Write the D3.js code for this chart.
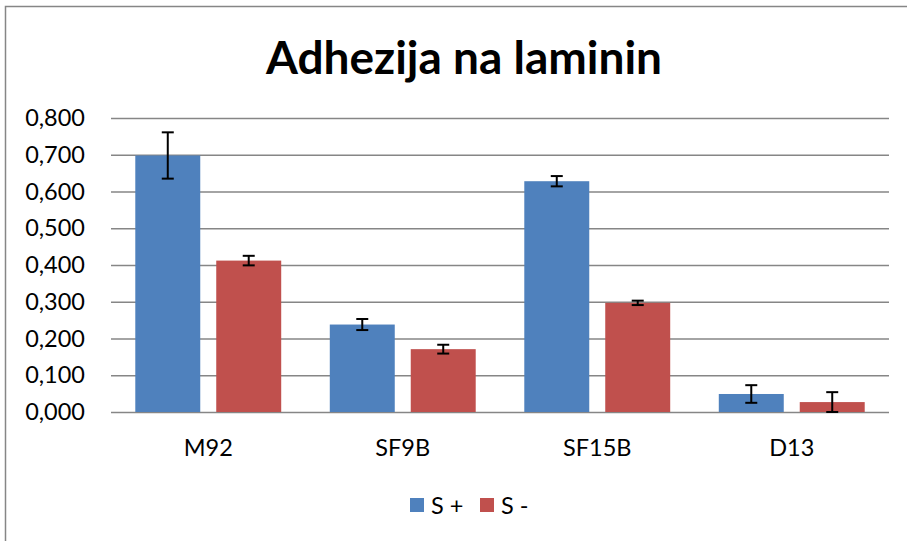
<!DOCTYPE html>
<html>
<head>
<meta charset="utf-8">
<script src="https://cdn.jsdelivr.net/npm/d3@7"></script>
<style>
  body { margin: 0; background: #fff; }
  svg { display: block; font-family: Lato, "Open Sans", sans-serif; }
</style>
</head>
<body>
<div id="chart"></div>
<script>
const categories = ["M92", "SF9B", "SF15B", "D13"];
const series = ["S +", "S -"];
const colors = ["#4F81BD", "#C0504D"];
const s_plus = [0.698, 0.238, 0.628, 0.049];
const s_plus_err = [0.063, 0.015, 0.014, 0.024];
const s_minus = [0.412, 0.171, 0.297, 0.027];
const s_minus_err = [0.013, 0.012, 0.006, 0.027];
const y_ticks = [0, 0.1, 0.2, 0.3, 0.4, 0.5, 0.6, 0.7, 0.8];

const width = 907, height = 541;
const margins = { top: 118, right: 18, bottom: 129, left: 111 };

const values = [s_plus, s_minus];
const errors = [s_plus_err, s_minus_err];

const svg = d3.select("#chart")
  .append("svg")
  .attr("width", width)
  .attr("height", height);

// chart frame (cut off at right and bottom like the picture)
svg.append("rect")
  .attr("x", 5.5).attr("y", 6.5)
  .attr("width", 1000).attr("height", 1000)
  .attr("fill", "none")
  .attr("stroke", "#868686")
  .attr("stroke-width", 1.5);

const x0 = d3.scaleBand()
  .domain(categories)
  .range([margins.left, width - margins.right]);

const x1 = d3.scaleBand()
  .domain(series)
  .range([0, x0.bandwidth()])
  .paddingInner(0.1975)
  .paddingOuter(0.3);

const y = d3.scaleLinear()
  .domain([0, 0.8])
  .range([height - margins.bottom, margins.top]);

const fmt = d => d3.format(".3f")(d).replace(".", ",");

// gridlines + y labels
const y_axis = d3.axisLeft(y)
  .tickValues(y_ticks)
  .tickFormat(fmt)
  .tickSize(-(width - margins.right - margins.left))
  .tickPadding(26);

svg.append("g")
  .attr("class", "y axis")
  .attr("transform", "translate(" + margins.left + ",0)")
  .call(y_axis)
  .call(g => g.select(".domain").remove())
  .call(g => g.selectAll(".tick line").attr("stroke", "#868686").attr("stroke-width", 1.5))
  .call(g => g.selectAll(".tick text").attr("font-size", 23.5).attr("fill", "#000").attr("font-family", "Lato"));

// bars
const groups = svg.append("g")
  .selectAll("g")
  .data(categories)
  .join("g")
  .attr("transform", d => "translate(" + x0(d) + ",0)");

groups.selectAll("rect")
  .data((d, i) => series.map((s, j) => ({ s, j, v: values[j][i], e: errors[j][i] })))
  .join("rect")
  .attr("x", d => x1(d.s))
  .attr("width", x1.bandwidth())
  .attr("y", d => y(d.v))
  .attr("height", d => y(0) - y(d.v))
  .attr("fill", d => colors[d.j]);

// error bars
const eb = groups.selectAll("g.err")
  .data((d, i) => series.map((s, j) => ({ s, j, v: values[j][i], e: errors[j][i] })))
  .join("g")
  .attr("class", "err")
  .attr("stroke", "#000")
  .attr("stroke-width", 2);

eb.append("line")
  .attr("x1", d => x1(d.s) + x1.bandwidth() / 2)
  .attr("x2", d => x1(d.s) + x1.bandwidth() / 2)
  .attr("y1", d => y(d.v + d.e))
  .attr("y2", d => y(Math.max(0, d.v - d.e)));
eb.append("line")
  .attr("x1", d => x1(d.s) + x1.bandwidth() / 2 - 6)
  .attr("x2", d => x1(d.s) + x1.bandwidth() / 2 + 6)
  .attr("y1", d => y(d.v + d.e))
  .attr("y2", d => y(d.v + d.e));
eb.append("line")
  .attr("x1", d => x1(d.s) + x1.bandwidth() / 2 - 6)
  .attr("x2", d => x1(d.s) + x1.bandwidth() / 2 + 6)
  .attr("y1", d => y(Math.max(0, d.v - d.e)))
  .attr("y2", d => y(Math.max(0, d.v - d.e)));

// category labels
const x_axis = d3.axisBottom(x0).tickSize(0).tickPadding(27);
svg.append("g")
  .attr("class", "x axis")
  .attr("transform", "translate(0," + y(0) + ")")
  .call(x_axis)
  .call(g => g.select(".domain").remove())
  .call(g => g.selectAll(".tick text").attr("font-size", 23.5).attr("fill", "#000").attr("font-family", "Lato"));

// title
svg.append("text")
  .attr("x", 464)
  .attr("y", 74)
  .attr("text-anchor", "middle")
  .attr("font-size", 46)
  .attr("font-weight", "bold")
  .text("Adhezija na laminin");

// legend
const legend = svg.append("g")
  .selectAll("g")
  .data(series)
  .join("g")
  .attr("transform", (d, i) => "translate(" + (410 + i * 70) + ",498)");
legend.append("rect")
  .attr("width", 14).attr("height", 14)
  .attr("fill", (d, i) => colors[i]);
legend.append("text")
  .attr("x", 21).attr("y", 15.5)
  .attr("font-size", 23.5)
  .text(d => d);
</script>
</body>
</html>
